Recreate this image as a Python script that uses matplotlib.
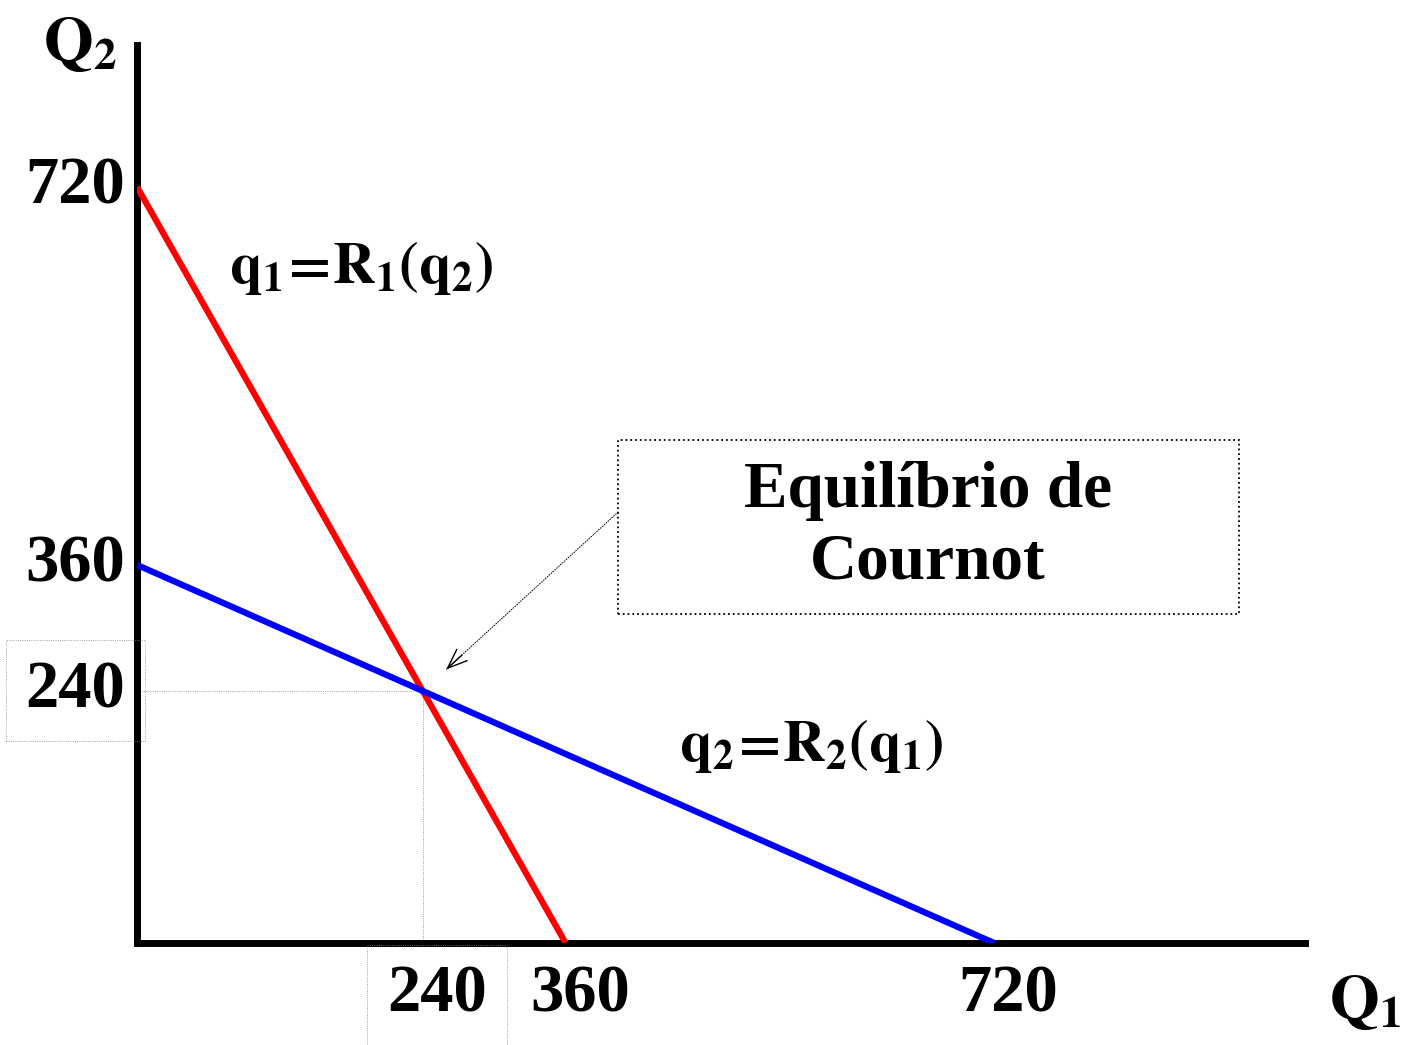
import matplotlib
matplotlib.use('Agg')
from matplotlib import pyplot as plt
from matplotlib.patches import Rectangle
from matplotlib.transforms import blended_transform_factory

# curvas de reação (duopólio de Cournot)
r1_q1 = [0, 360]
r1_q2 = [720, 0]
r2_q1 = [0, 720]
r2_q2 = [360, 0]
eq_q1 = 240
eq_q2 = 240

y_ticks = [720, 360, 240]
x_ticks = [240, 360, 720]

plt.rcParams['font.family'] = ['Liberation Serif', 'DejaVu Serif']
plt.rcParams['font.weight'] = 'bold'
plt.rcParams['mathtext.fontset'] = 'stix'

fig = plt.figure(figsize=(14.05, 10.45), dpi=100)
ax = fig.add_axes([0.0975, 0.0976, 0.8313, 0.8593])
ax.set_xlim(0, 981)
ax.set_ylim(0, 855)

for s in ['top', 'right']:
    ax.spines[s].set_visible(False)
for s in ['left', 'bottom']:
    ax.spines[s].set_linewidth(5)
    ax.spines[s].set_color('black')
ax.set_xticks([])
ax.set_yticks([])

# linhas guia do equilíbrio
ax.plot([0, eq_q1], [eq_q2, eq_q2], color='grey', lw=0.6, ls=':')
ax.plot([eq_q1, eq_q1], [0, eq_q2], color='grey', lw=0.6, ls=':')

ax.plot(r1_q1, r1_q2, color='#ff0000', lw=4.5, solid_capstyle='butt', zorder=3)
ax.plot(r2_q1, r2_q2, color='#0000ff', lw=4.5, solid_capstyle='butt', zorder=3)

# rótulos dos eixos
ty = blended_transform_factory(ax.transAxes, ax.transData)
tx = blended_transform_factory(ax.transData, ax.transAxes)
for v in y_ticks:
    t = ax.text(-0.01, v, str(v), transform=ty, ha='right', va='center',
                fontsize=48, fontweight='bold', clip_on=False)
    if v == eq_q2:
        t.set_bbox(dict(boxstyle='square,pad=0.3', fc='none', ec='grey', lw=0.6, ls=':'))
for v in x_ticks:
    t = ax.text(v + 12, -0.058, str(v), transform=tx, ha='center', va='center',
                fontsize=48, fontweight='bold', clip_on=False)
    if v == eq_q1:
        t.set_bbox(dict(boxstyle='square,pad=0.3', fc='none', ec='grey', lw=0.6, ls=':'))

fig.text(80 / 1405, 1 - 45 / 1045, r'$\mathbf{Q_2}$', ha='center', va='center', fontsize=46)
fig.text(1365 / 1405, 1 - 1003 / 1045, r'$\mathbf{Q_1}$', ha='center', va='center', fontsize=46)

ax.text(0.1918, 0.7517, r'$\mathbf{q_1\!=\!R_1(q_2)}$', transform=ax.transAxes,
        ha='center', va='center', fontsize=42)
ax.text(0.577, 0.2194, r'$\mathbf{q_2\!=\!R_2(q_1)}$', transform=ax.transAxes,
        ha='center', va='center', fontsize=42)

# caixa do equilíbrio
ax.add_patch(Rectangle((0.412, 0.3664), 0.5317, 0.1938, transform=ax.transAxes,
                       fill=False, ec='black', lw=1.3, ls=':', clip_on=False))
ax.text(0.677, 0.463, 'Equilíbrio de\nCournot', transform=ax.transAxes,
        ha='center', va='center', fontsize=47, fontweight='bold', linespacing=1.25)

# seta: haste pontilhada e ponta sólida na mesma direção
fig.canvas.draw()
start = ax.transAxes.transform((0.412, 0.48))
end = ax.transData.transform((eq_q1, eq_q2))
tip = start + (end - start) * 0.88
head_from = start + (end - start) * 0.8
tip_ax = ax.transAxes.inverted().transform(tip)
head_ax = ax.transAxes.inverted().transform(head_from)
ax.annotate('', xy=tip_ax, xytext=(0.412, 0.48),
            xycoords='axes fraction', textcoords='axes fraction',
            arrowprops=dict(arrowstyle='-', color='black', lw=0.7, ls=':',
                            shrinkA=0, shrinkB=0))
ax.annotate('', xy=tip_ax, xytext=head_ax,
            xycoords='axes fraction', textcoords='axes fraction',
            arrowprops=dict(arrowstyle='->,head_length=1.4,head_width=0.55', color='black', lw=1.0,
                            ls='-', shrinkA=0, shrinkB=0))

fig.savefig('out.png', dpi=100)
